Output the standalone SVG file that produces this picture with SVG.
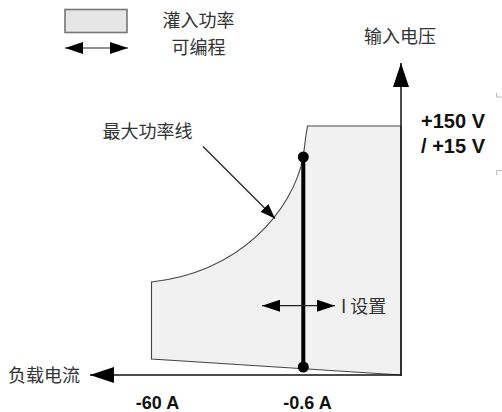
<svg xmlns="http://www.w3.org/2000/svg" width="502" height="412" viewBox="0 0 502 412">
<style>
.cjk{font-family:"Noto Sans CJK SC","Noto Sans",sans-serif;font-size:18px;fill:#333}
.num{font-family:"Liberation Sans",Arial,sans-serif;font-weight:bold;fill:#111}
.ax{stroke:#111;stroke-width:1.5;fill:none}
.thin{stroke:#222;stroke-width:1.2;fill:none}
</style>
<defs>
<marker id="big" markerUnits="userSpaceOnUse" markerWidth="24" markerHeight="16" refX="24" refY="8" orient="auto-start-reverse"><path d="M0,0 L24,8 L0,16 z" fill="#000"/></marker>
<marker id="mid" markerUnits="userSpaceOnUse" markerWidth="18" markerHeight="12" refX="18" refY="6" orient="auto-start-reverse"><path d="M0,0 L18,6 L0,12 z" fill="#000"/></marker>
<marker id="sm" markerUnits="userSpaceOnUse" markerWidth="15" markerHeight="11" refX="15" refY="5.5" orient="auto"><path d="M0,0 L15,5.5 L0,11 z" fill="#000"/></marker>
</defs>
<rect width="502" height="412" fill="#fff"/>
<g id="legend">
<rect x="65" y="9.5" width="62" height="23" fill="#e6e6e6" stroke="#777" stroke-width="1.6"/>
<line x1="65" y1="48" x2="128" y2="48" class="thin" marker-start="url(#mid)" marker-end="url(#mid)"/>
<text class="cjk" x="198.5" y="27" text-anchor="middle">灌入功率</text>
<text class="cjk" x="198.5" y="54" text-anchor="middle">可编程</text>
</g>
<g id="region">
<path d="M401,126 L307.5,126 C305.5,137 304.5,146 303.3,157 C292,212 240,272 151.5,282 L151.5,359 L401,375 Z" fill="#f1f1f1" stroke="#444" stroke-width="1.1"/>
</g>
<g id="connectors">
<line x1="401" y1="376" x2="401" y2="63" class="ax" marker-end="url(#big)"/>
<line x1="401" y1="375" x2="90" y2="375" class="ax" marker-end="url(#big)"/>
<line x1="303.3" y1="157" x2="303.3" y2="367" stroke="#000" stroke-width="4"/>
<line x1="262" y1="305.7" x2="335" y2="305.7" class="thin" marker-start="url(#mid)" marker-end="url(#mid)"/>
<line x1="203" y1="146.5" x2="275" y2="218.5" class="thin" marker-end="url(#sm)"/>
</g>
<g id="dots">
<circle cx="303.3" cy="157" r="5.5" fill="#000"/>
<circle cx="303.3" cy="367" r="5.5" fill="#000"/>
</g>
<g id="labels">
<text class="cjk" x="400" y="42.5" text-anchor="middle">输入电压</text>
<text class="cjk" x="102.5" y="137.5">最大功率线</text>
<text class="cjk" x="8" y="382">负载电流</text>
<text class="cjk" x="341" y="312.5">I 设置</text>
<text class="num" x="485" y="128" text-anchor="end" font-size="20">+150 V</text>
<text class="num" x="485" y="153" text-anchor="end" font-size="20">/ +15 V</text>
<text class="num" x="157.5" y="408.5" text-anchor="middle" font-size="18">-60 A</text>
<text class="num" x="307.5" y="408.5" text-anchor="middle" font-size="18">-0.6 A</text>
</g>
<g id="marks" stroke="#bbb" stroke-width="1" fill="none">
<path d="M496.5,93 L496.5,97 L502,97"/>
<path d="M502,170.5 L496.5,170.5 L496.5,175"/>
</g>
</svg>
